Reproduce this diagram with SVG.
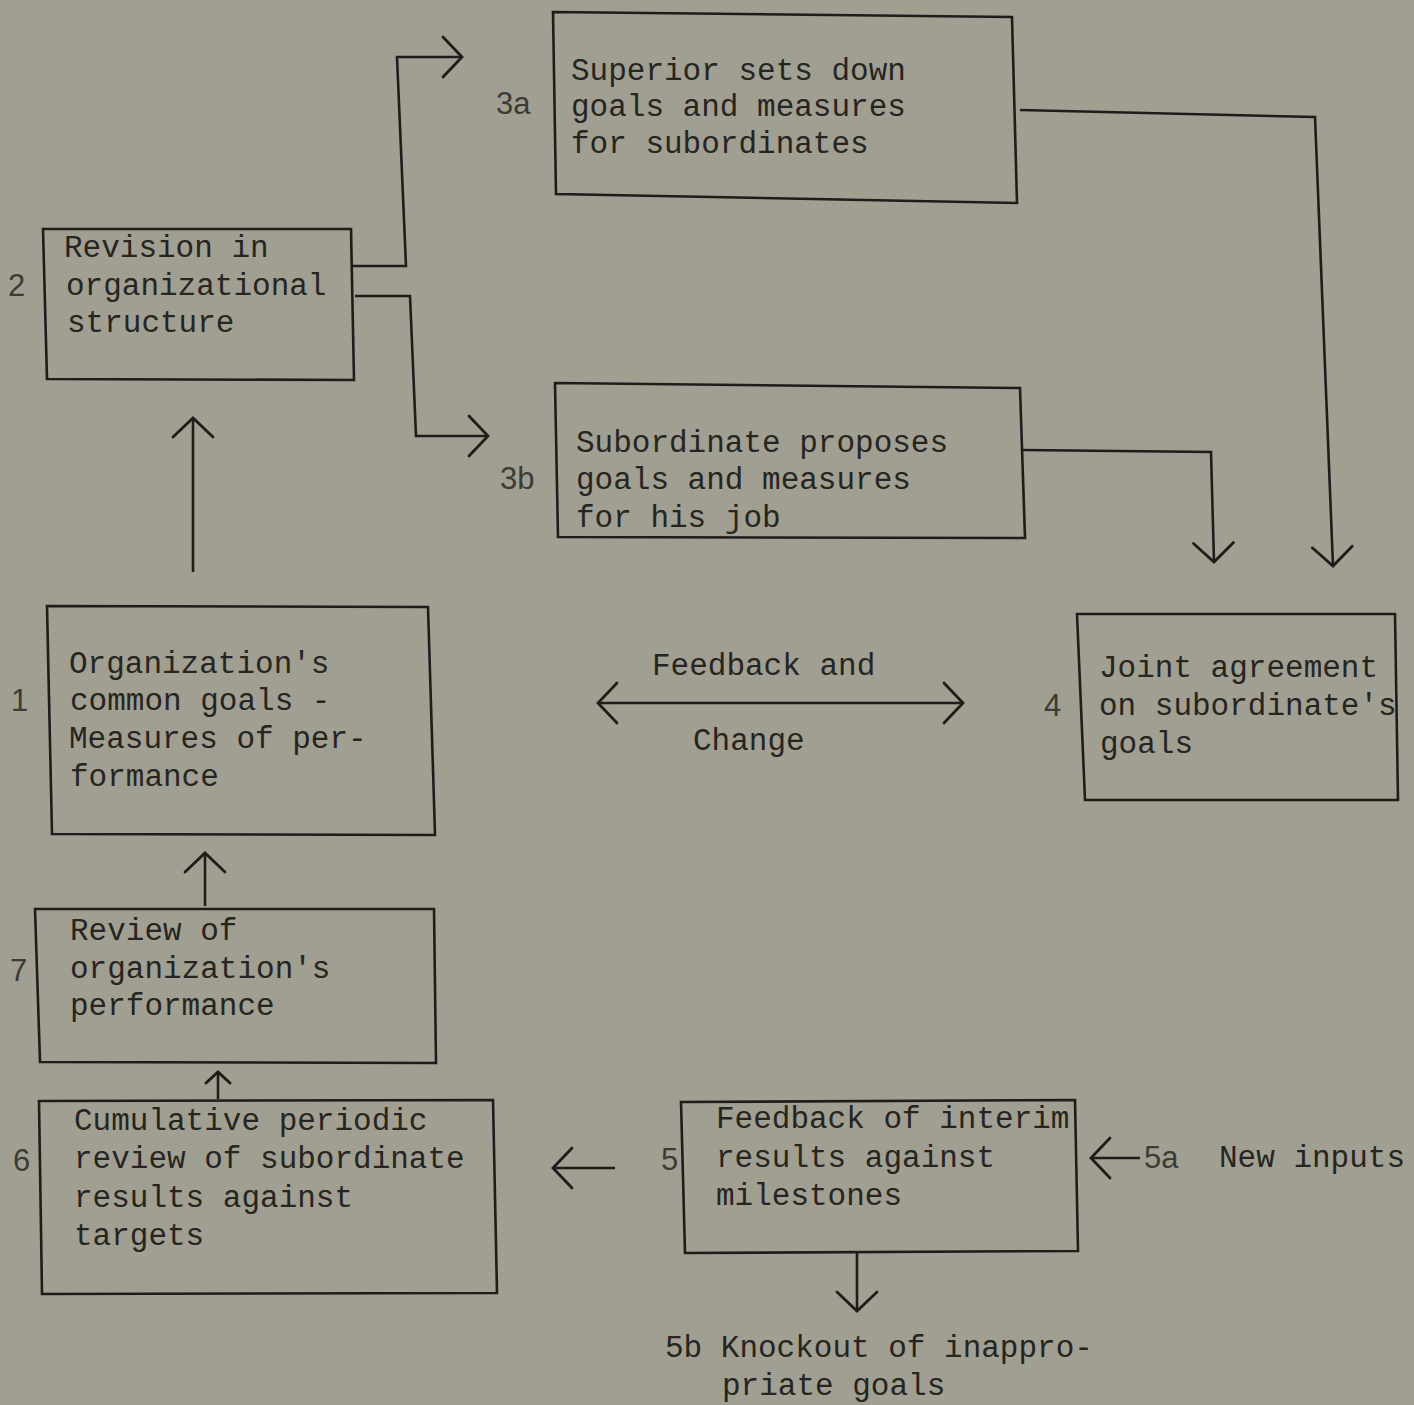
<svg xmlns="http://www.w3.org/2000/svg" width="1414" height="1405" viewBox="0 0 1414 1405">
<defs>
<style>
.bg{fill:#a19f91}
.box{fill:none;stroke:#1e1d1b;stroke-width:2.6;stroke-linejoin:miter}
.t{font-family:"Liberation Mono","DejaVu Sans Mono",monospace;font-size:31px;fill:#262522}
.lbl{font-family:"Liberation Sans","DejaVu Sans",sans-serif;font-size:31px;fill:#3c3b37}
.c{fill:none;stroke:#1e1d1b;stroke-width:2.6;stroke-linejoin:miter}
</style>
<marker id="ah" markerUnits="userSpaceOnUse" markerWidth="50" markerHeight="50" refX="0" refY="0" viewBox="-25 -25 50 50" orient="auto-start-reverse" overflow="visible">
<path d="M-19,-20 L0,0 L-19,20" fill="none" stroke="#1e1d1b" stroke-width="2.8" stroke-linecap="round"/>
</marker>
<marker id="ahs" markerUnits="userSpaceOnUse" markerWidth="30" markerHeight="30" refX="0" refY="0" viewBox="-15 -15 30 30" orient="auto-start-reverse" overflow="visible">
<path d="M-11,-12 L0,0 L-11,12" fill="none" stroke="#1e1d1b" stroke-width="3" stroke-linecap="round"/>
</marker>
</defs>
<rect class="bg" x="0" y="0" width="1414" height="1405"/>

<g id="connectors">
<path class="c" d="M353,266 L406,266 L397,57 L462,57" marker-end="url(#ah)"/>
<path class="c" d="M355,296 L410,296 L416,436 L488,436" marker-end="url(#ah)"/>
<path class="c" d="M1020,110 L1315,117 L1333,566" marker-end="url(#ah)"/>
<path class="c" d="M1022,450 L1211,452 L1214,562" marker-end="url(#ah)"/>
<path class="c" d="M193,572 L193,418" marker-end="url(#ah)"/>
<path class="c" d="M205,906 L205,853" marker-end="url(#ah)"/>
<path class="c" d="M218,1099 L218,1072" marker-end="url(#ahs)"/>
<path class="c" d="M615,1168 L553,1168" marker-end="url(#ah)"/>
<path class="c" d="M1140,1158 L1091,1158" marker-end="url(#ah)"/>
<path class="c" d="M857,1253 L857,1311" marker-end="url(#ah)"/>
<path class="c" d="M598,703 L963,703" marker-start="url(#ah)" marker-end="url(#ah)"/>
<text class="t" x="652" y="675">Feedback and</text>
<text class="t" x="693" y="750">Change</text>
</g>

<g id="node2">
<path class="box" d="M43,229 L351,229 L354,380 L47,379 Z"/>
<text class="lbl" x="8" y="296">2</text>
<text class="t" x="64" y="257">Revision in</text>
<text class="t" x="66" y="295">organizational</text>
<text class="t" x="67" y="332">structure</text>
</g>

<g id="node3a">
<path class="box" d="M553,12 L1012,17 L1017,203 L556,194 Z"/>
<text class="lbl" x="496" y="114">3a</text>
<text class="t" x="571" y="80">Superior sets down</text>
<text class="t" x="571" y="116">goals and measures</text>
<text class="t" x="571" y="153">for subordinates</text>
</g>

<g id="node3b">
<path class="box" d="M555,383 L1020,388 L1025,538 L558,537 Z"/>
<text class="lbl" x="500" y="489">3b</text>
<text class="t" x="576" y="452">Subordinate proposes</text>
<text class="t" x="576" y="489">goals and measures</text>
<text class="t" x="576" y="527">for his job</text>
</g>

<g id="node4">
<path class="box" d="M1077,614 L1395,614 L1398,800 L1085,800 Z"/>
<text class="lbl" x="1044" y="716">4</text>
<text class="t" x="1099" y="677">Joint agreement</text>
<text class="t" x="1099" y="715">on subordinate's</text>
<text class="t" x="1100" y="753">goals</text>
</g>

<g id="node1">
<path class="box" d="M47,606 L428,607 L435,835 L52,834 Z"/>
<text class="lbl" x="11" y="711">1</text>
<text class="t" x="69" y="673">Organization's</text>
<text class="t" x="70" y="710">common goals -</text>
<text class="t" x="69" y="748">Measures of per-</text>
<text class="t" x="70" y="786">formance</text>
</g>

<g id="node7">
<path class="box" d="M35,909 L434,909 L436,1063 L40,1062 Z"/>
<text class="lbl" x="10" y="981">7</text>
<text class="t" x="70" y="940">Review of</text>
<text class="t" x="70" y="978">organization's</text>
<text class="t" x="70" y="1015">performance</text>
</g>

<g id="node6">
<path class="box" d="M39,1101 L493,1100 L497,1293 L42,1294 Z"/>
<text class="lbl" x="13" y="1171">6</text>
<text class="t" x="74" y="1130">Cumulative periodic</text>
<text class="t" x="74" y="1168">review of subordinate</text>
<text class="t" x="74" y="1207">results against</text>
<text class="t" x="74" y="1245">targets</text>
</g>

<g id="node5">
<path class="box" d="M681,1102 L1075,1100 L1078,1251 L685,1253 Z"/>
<text class="lbl" x="661" y="1170">5</text>
<text class="t" x="716" y="1128">Feedback of interim</text>
<text class="t" x="716" y="1167">results against</text>
<text class="t" x="716" y="1205">milestones</text>
</g>

<g id="node5a">
<text class="lbl" x="1144" y="1168">5a</text>
<text class="t" x="1219" y="1167">New inputs</text>
</g>

<g id="node5b">
<text class="t" x="665" y="1357">5b Knockout of inappro-</text>
<text class="t" x="722" y="1395">priate goals</text>
</g>
</svg>
